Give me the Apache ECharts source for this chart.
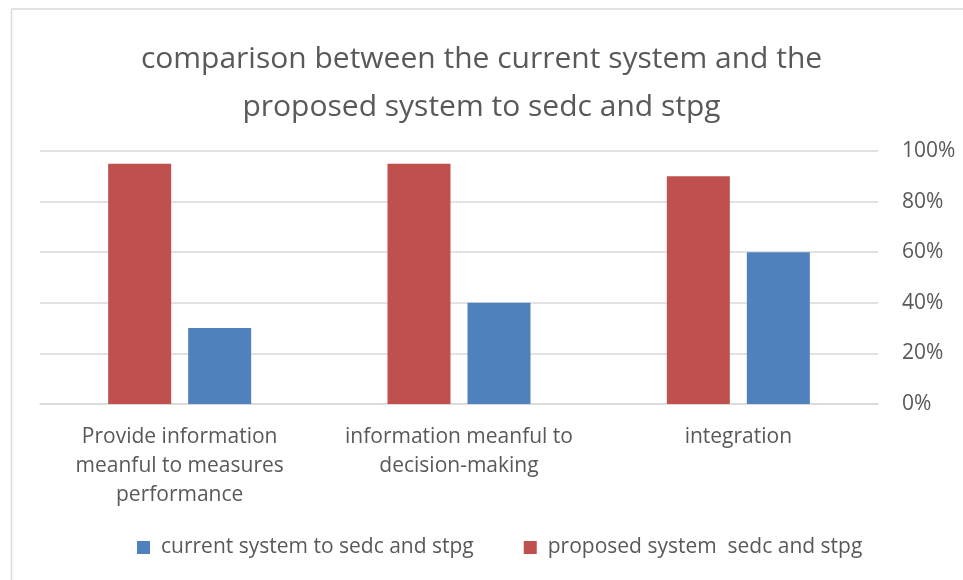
<!DOCTYPE html>
<html><head><meta charset="utf-8">
<script src="https://cdn.jsdelivr.net/npm/echarts@6/dist/echarts.min.js"></script>
<style>html,body{margin:0;padding:0;background:#fff}#c{width:963px;height:580px}</style>
</head><body><div id="c"></div>
<script>
const categories = ['Provide information\nmeanful to measures\nperformance', 'information meanful to\ndecision-making', 'integration'];
const proposedValues = [95, 95, 90];
const currentValues = [30, 40, 60];
const yTicks = [0, 20, 40, 60, 80, 100];
const titleText = 'comparison between the current system and the\nproposed system to sedc and stpg';
const seriesNames = ['current system to sedc and stpg', 'proposed system  sedc and stpg'];

const FONT = "'Open Sans', sans-serif";
const chart = echarts.init(document.getElementById('c'));
chart.setOption({
  backgroundColor: '#fff',
  animation: false,
  textStyle: { fontFamily: FONT },
  graphic: [
    { type: 'line', shape: { x1: 11.5, y1: 9, x2: 963, y2: 9 }, style: { stroke: '#d9d9d9', lineWidth: 1.5 } },
    { type: 'line', shape: { x1: 11.5, y1: 9, x2: 11.5, y2: 580 }, style: { stroke: '#d9d9d9', lineWidth: 1.5 } }
  ],
  title: {
    text: titleText, left: 'center', top: 30,
    textStyle: { fontFamily: FONT, fontSize: 30, fontWeight: 'normal', color: '#595959', lineHeight: 48 }
  },
  legend: {
    data: seriesNames, top: 537, left: 137, itemWidth: 13, itemHeight: 13, itemGap: 50,
    icon: 'rect', padding: 0,
    textStyle: { fontFamily: FONT, fontSize: 21, color: '#595959', padding: [0, 0, 0, 6] }
  },
  grid: { left: 40, right: 85, top: 151, bottom: 176, containLabel: false },
  xAxis: {
    type: 'category', data: categories,
    axisLine: { lineStyle: { color: '#d9d9d9', width: 1.5 } },
    axisTick: { show: false },
    axisLabel: { fontFamily: FONT, fontSize: 21, color: '#595959', lineHeight: 29, margin: 19, interval: 0 }
  },
  yAxis: {
    type: 'value', position: 'right', min: 0, max: 100, interval: 20,
    axisLine: { show: false }, axisTick: { show: false },
    splitLine: { lineStyle: { color: '#d9d9d9', width: 1.5 } },
    axisLabel: { fontFamily: FONT, fontSize: 21, color: '#595959', margin: 24, formatter: v => v + '%' }
  },
  series: [
    { name: seriesNames[1], type: 'bar', data: proposedValues, barWidth: 63, barGap: '27%', itemStyle: { color: '#C0504D' } },
    { name: seriesNames[0], type: 'bar', data: currentValues, barWidth: 63, itemStyle: { color: '#4F81BD' } }
  ]
});
</script></body></html>
